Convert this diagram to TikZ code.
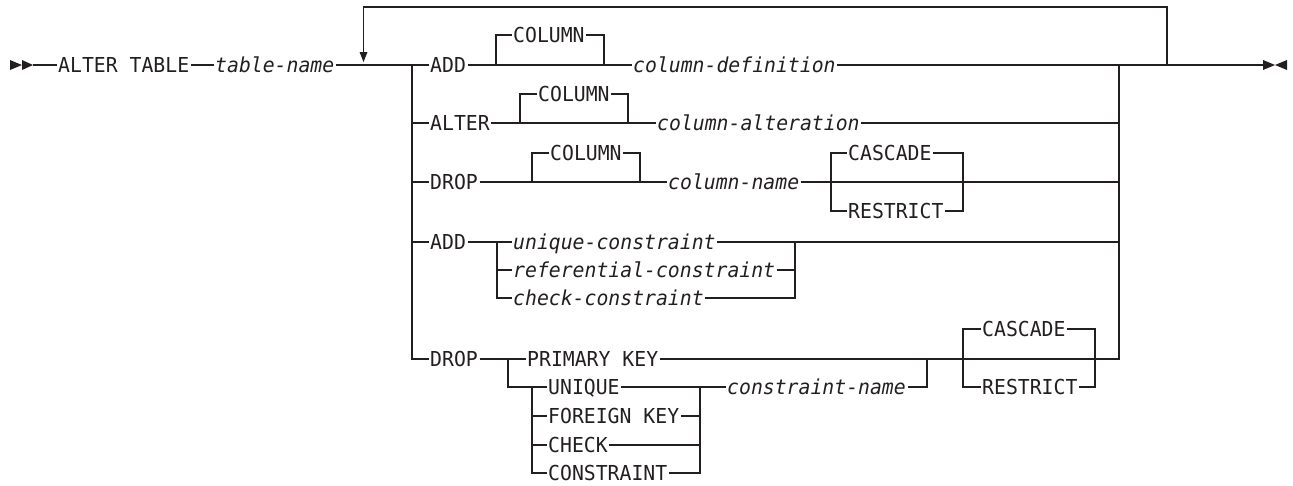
\documentclass[tikz,border=0pt]{standalone}
\usepackage{fontspec}
\newfontfamily\rrmono{DejaVu Sans Mono}[FakeStretch=0.96]
\definecolor{ink}{RGB}{35,31,32}
\tikzset{
  base/.style={inner xsep=1.5pt, inner ysep=0pt, text height=15pt, text depth=0pt, anchor=west, text=ink},
  kw/.style={base, font=\rrmono\fontsize{20.6}{21}\selectfont},
  var/.style={base, font=\rrmono\itshape\fontsize{20.6}{21}\selectfont},
  rail/.style={draw=ink, line width=1.4pt},
  tip/.style={fill=ink, draw=none}
}
\begin{document}
\begin{tikzpicture}[x=1pt,y=-1pt]
\useasboundingbox (0,0) rectangle (1293,485);
% coordinates
\coordinate (s) at (33,65);
\coordinate (bl) at (412,65);
\coordinate (br) at (1119,65);
\coordinate (lo) at (1167,65);
\coordinate (li) at (363.5,52);
\coordinate (e) at (1263,65);
% row 1
\node[kw] (alter) at (56.5,65) {ALTER TABLE};
\node[var] (tname) at (213.5,65) {table-name};
\node[kw] (add1) at (428.5,65) {ADD};
\node[kw] (col1) at (511.5,35) {COLUMN};
\node[var] (cdef) at (631.5,65) {column-definition};
% row 2
\node[kw] (alt2) at (428.5,123) {ALTER};
\node[kw] (col2) at (536.5,94) {COLUMN};
\node[var] (calt) at (655.5,123) {column-alteration};
% row 3
\node[kw] (drop1) at (428.5,182) {DROP};
\node[kw] (col3) at (548.5,153) {COLUMN};
\node[var] (cname) at (666.5,182) {column-name};
\node[kw] (casc1) at (846.5,153) {CASCADE};
\node[kw] (restr1) at (846.5,211) {RESTRICT};
% row 4
\node[kw] (add2) at (428.5,242) {ADD};
\node[var] (uc) at (511.5,242) {unique-constraint};
\node[var] (rc) at (511.5,270) {referential-constraint};
\node[var] (cc) at (511.5,298) {check-constraint};
% row 5
\node[kw] (drop2) at (428.5,359) {DROP};
\node[kw] (pk) at (525.5,359) {PRIMARY KEY};
\node[kw] (uq) at (546.5,387) {UNIQUE};
\node[kw] (fk) at (546.5,416) {FOREIGN KEY};
\node[kw] (chk) at (546.5,445) {CHECK};
\node[kw] (cons) at (546.5,473) {CONSTRAINT};
\node[var] (conname) at (725.5,387) {constraint-name};
\node[kw] (casc2) at (980.5,329) {CASCADE};
\node[kw] (restr2) at (980.5,387) {RESTRICT};

% start and end marks
\fill[tip] (10,60) -- (22,65) -- (10,70) -- cycle;
\fill[tip] (22,60) -- (33,65) -- (22,70) -- cycle;
\fill[tip] (1263,60) -- (1275,65) -- (1263,70) -- cycle;
\fill[tip] (1287,60) -- (1275,65) -- (1287,70) -- cycle;

% main line
\draw[rail] (s) -- (alter.west);
\draw[rail] (alter.east) -- (tname.west);
\draw[rail] (tname.east) -- (add1.west);
\draw[rail] (add1.east) -- (cdef.west);
\draw[rail] (cdef.east) -- (e);
\draw[draw=ink, line width=2.6pt] (1172,65) -- (1196,65);
% repeat loop
\draw[rail] (lo) |- (363.5,7) -- (li);
\fill[tip] (359.5,52) -- (367.5,52) -- (363.5,62) -- cycle;

% left and right branch bars
\draw[rail] (bl) |- (drop2.west);
\draw[rail] (pk.east) -| (br);
\draw[rail] (bl |- alt2.west) -- (alt2.west);
\draw[rail] (bl |- drop1.west) -- (drop1.west);
\draw[rail] (bl |- add2.west) -- (add2.west);

% row 1 optional COLUMN
\draw[rail] (col1.west) -| (496,65);
\draw[rail] (col1.east) -| (604,65);
% row 2
\draw[rail] (alt2.east) -- (calt.west);
\draw[rail] (calt.east) -- (br |- calt.east);
\draw[rail] (col2.west) -| (520,123);
\draw[rail] (col2.east) -| (628,123);
% row 3
\draw[rail] (drop1.east) -- (cname.west);
\draw[rail] (col3.west) -| (532,182);
\draw[rail] (col3.east) -| (640,182);
\draw[rail] (cname.east) -- (br |- cname.east);
\draw[rail] (casc1.west) -| (831,182) |- (restr1.west);
\draw[rail] (casc1.east) -| (963,182) |- (restr1.east);
% row 4
\draw[rail] (add2.east) -- (uc.west);
\draw[rail] (497,242) |- (cc.west);
\draw[rail] (497,270) -- (rc.west);
\draw[rail] (uc.east) -- (br |- uc.east);
\draw[rail] (cc.east) -| (795,242);
\draw[rail] (rc.east) -- (795,270);
% row 5
\draw[rail] (drop2.east) -- (pk.west);
\draw[rail] (508,359) |- (uq.west);
\draw[rail] (532,387) |- (cons.west);
\draw[rail] (532,416) -- (fk.west);
\draw[rail] (532,445) -- (chk.west);
\draw[rail] (uq.east) -- (conname.west);
\draw[rail] (cons.east) -| (700,387);
\draw[rail] (fk.east) -- (700,416);
\draw[rail] (chk.east) -- (700,445);
\draw[rail] (conname.east) -| (927,359);
\draw[rail] (casc2.west) -| (963,359) |- (restr2.west);
\draw[rail] (casc2.east) -| (1095,359) |- (restr2.east);
\end{tikzpicture}
\end{document}
